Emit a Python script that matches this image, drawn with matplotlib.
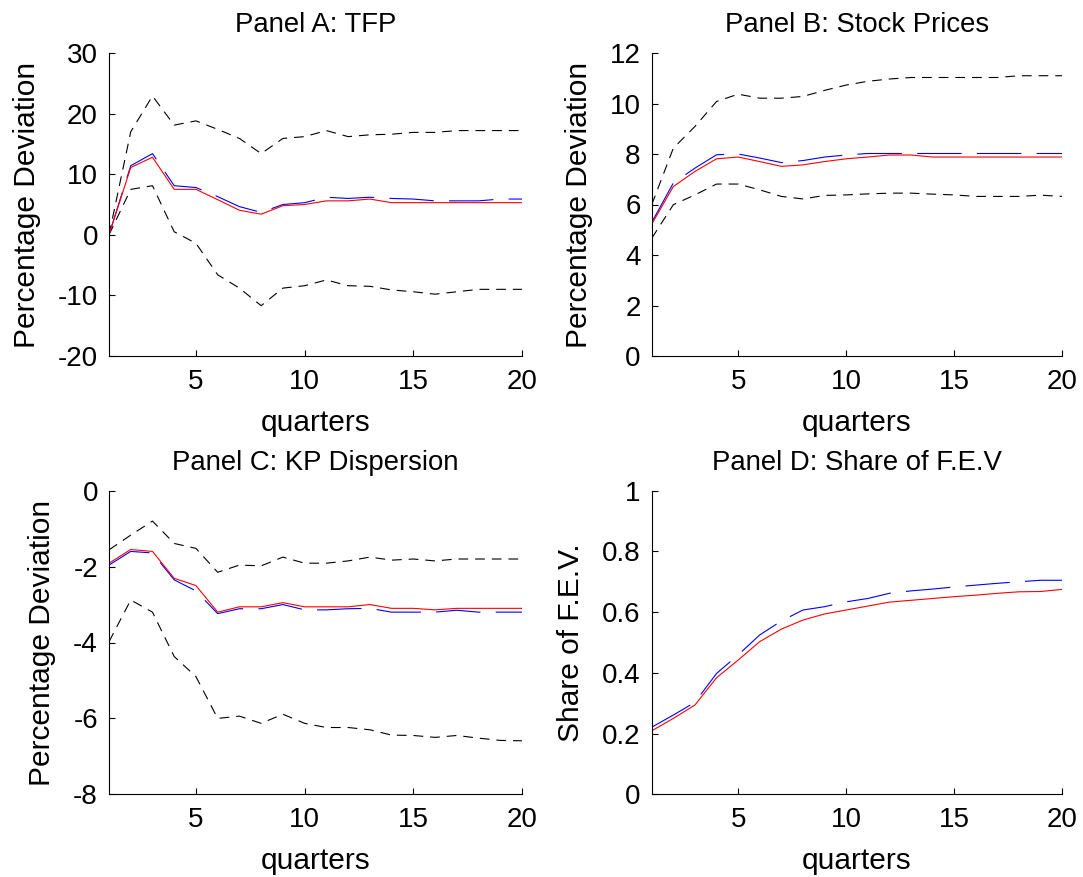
import matplotlib
matplotlib.use("Agg")
import matplotlib.pyplot as plt
import numpy as np

plt.rcParams['font.family'] = ['Liberation Sans', 'DejaVu Sans']
plt.rcParams['axes.unicode_minus'] = False
plt.rcParams['lines.scale_dashes'] = False

quarters = list(range(1, 21))

# Panel A: TFP
a_red = [0, 11.1, 12.8, 7.5, 7.5, 5.8, 4.05, 3.4, 4.8, 5.0, 5.6, 5.6, 5.9, 5.3, 5.3, 5.3, 5.3, 5.3, 5.3, 5.3]
a_blue = [0, 11.4, 13.4, 8.1, 7.8, 6.3, 4.65, 3.7, 5.0, 5.3, 6.2, 6.0, 6.2, 6.0, 5.9, 5.6, 5.6, 5.6, 5.9, 5.9]
a_up = [0, 17.0, 22.9, 18.1, 18.8, 17.4, 15.9, 13.4, 15.9, 16.2, 17.2, 16.2, 16.5, 16.6, 16.9, 16.9, 17.2, 17.2, 17.2, 17.2]
a_lo = [0, 7.5, 8.1, 0.5, -1.4, -6.6, -8.8, -11.7, -8.8, -8.4, -7.45, -8.4, -8.5, -9.1, -9.4, -9.8, -9.4, -9.0, -9.0, -9.0]

# Panel B: Stock Prices
b_red = [5.22, 6.71, 7.31, 7.81, 7.88, 7.70, 7.51, 7.57, 7.70, 7.81, 7.88, 7.96, 7.96, 7.88, 7.88, 7.88, 7.88, 7.88, 7.88, 7.88]
b_blue = [5.29, 6.85, 7.44, 7.97, 8.0, 7.84, 7.66, 7.74, 7.88, 7.96, 8.02, 8.02, 8.02, 8.02, 8.02, 8.02, 8.02, 8.02, 8.02, 8.02]
b_up = [5.99, 8.23, 9.09, 10.08, 10.37, 10.21, 10.21, 10.28, 10.52, 10.73, 10.88, 10.97, 11.03, 11.03, 11.03, 11.03, 11.03, 11.10, 11.10, 11.10]
b_lo = [4.66, 5.99, 6.38, 6.81, 6.81, 6.58, 6.32, 6.22, 6.36, 6.38, 6.42, 6.45, 6.45, 6.41, 6.38, 6.32, 6.32, 6.32, 6.37, 6.32]

# Panel C: KP Dispersion
c_red = [-1.91, -1.55, -1.60, -2.31, -2.50, -3.20, -3.06, -3.06, -2.95, -3.06, -3.06, -3.06, -3.0, -3.10, -3.10, -3.14, -3.10, -3.10, -3.10, -3.10]
c_blue = [-1.96, -1.60, -1.64, -2.35, -2.64, -3.24, -3.11, -3.11, -3.0, -3.14, -3.14, -3.11, -3.10, -3.20, -3.20, -3.20, -3.15, -3.20, -3.20, -3.20]
c_up = [-1.56, -1.17, -0.80, -1.39, -1.52, -2.15, -1.96, -1.98, -1.75, -1.91, -1.91, -1.85, -1.75, -1.83, -1.80, -1.85, -1.80, -1.80, -1.80, -1.80]
c_lo = [-3.98, -2.88, -3.20, -4.37, -4.90, -6.0, -5.94, -6.13, -5.89, -6.13, -6.24, -6.24, -6.30, -6.44, -6.45, -6.50, -6.45, -6.52, -6.58, -6.59]

# Panel D: Share of F.E.V
d_red = [0.209, 0.25, 0.294, 0.384, 0.442, 0.503, 0.544, 0.574, 0.594, 0.607, 0.62, 0.633, 0.639, 0.645, 0.651, 0.656, 0.662, 0.667, 0.668, 0.675]
d_blue = [0.221, 0.261, 0.303, 0.398, 0.459, 0.525, 0.571, 0.607, 0.618, 0.634, 0.645, 0.662, 0.670, 0.676, 0.683, 0.689, 0.695, 0.700, 0.705, 0.705]

titles = ["Panel A: TFP", "Panel B: Stock Prices", "Panel C: KP Dispersion", "Panel D: Share of F.E.V"]
ylabels = ["Percentage Deviation", "Percentage Deviation", "Percentage Deviation", "Share of F.E.V."]
ylims = [(-20, 30), (0, 12), (-8, 0), (0, 1)]
yticks = [[-20, -10, 0, 10, 20, 30], [0, 2, 4, 6, 8, 10, 12], [-8, -6, -4, -2, 0], [0, 0.2, 0.4, 0.6, 0.8, 1]]
yticklabels = [["-20", "-10", "0", "10", "20", "30"], ["0", "2", "4", "6", "8", "10", "12"],
               ["-8", "-6", "-4", "-2", "0"], ["0", "0.2", "0.4", "0.6", "0.8", "1"]]
xticks = [5, 10, 15, 20]

W, H = 1083, 877
fig = plt.figure(figsize=(W / 100, H / 100), dpi=100)
boxes = [(109, 53, 522, 356), (651.7, 53, 1062.3, 356), (109, 490.7, 522, 794.3), (651.7, 490.7, 1062.3, 794.3)]
series = [(a_red, a_blue, a_up, a_lo), (b_red, b_blue, b_up, b_lo), (c_red, c_blue, c_up, c_lo), (d_red, d_blue, None, None)]

for i, (l, t, r, b) in enumerate(boxes):
    ax = fig.add_axes([l / W, (H - b) / H, (r - l) / W, (b - t) / H])
    red, blue, up, lo = series[i]
    if up is not None:
        ax.plot(quarters, up, color='black', lw=0.8, dashes=(7, 5))
        ax.plot(quarters, lo, color='black', lw=0.8, dashes=(7, 5))
    ax.plot(quarters, blue, color='blue', lw=0.8, dashes=(32, 11))
    ax.plot(quarters, red, color='red', lw=0.8)
    ax.set_xlim(1, 20)
    ax.set_ylim(*ylims[i])
    ax.set_xticks(xticks)
    ax.set_xticklabels([str(v) for v in xticks])
    ax.set_yticks(yticks[i])
    ax.set_yticklabels(yticklabels[i])
    for s in ['top', 'right']:
        ax.spines[s].set_visible(False)
    for s in ['left', 'bottom']:
        ax.spines[s].set_linewidth(0.8)
    ax.tick_params(direction='in', length=4, width=0.8, labelsize=20)
    ax.tick_params(axis='x', pad=9.5)
    ax.tick_params(axis='y', pad=8)
    ax.set_title(titles[i], fontsize=19.8, pad=15)
    ax.set_xlabel("quarters", fontsize=21.5, labelpad=10)
    ax.set_ylabel(ylabels[i], fontsize=21.5, labelpad=12)

fig.savefig("out.png", dpi=100)
